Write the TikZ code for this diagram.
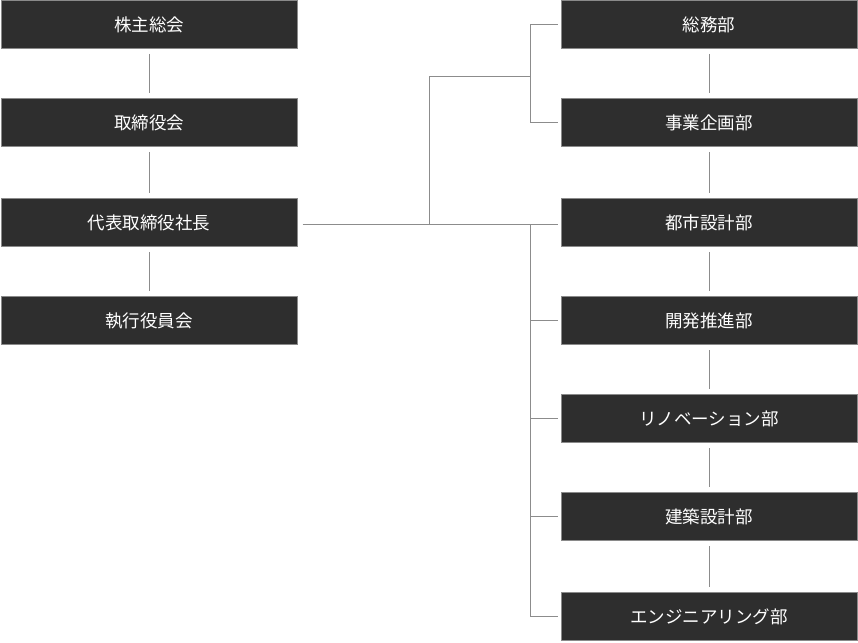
\documentclass[tikz,border=0pt]{standalone}
\usepackage{fontspec}
\newfontfamily\cjk{Noto Sans CJK JP}
\definecolor{boxfill}{HTML}{2E2E2E}
\definecolor{boxline}{HTML}{8A8A8A}
\definecolor{conn}{HTML}{8C8C8C}
\tikzset{
  orgbox/.style={draw=boxline, line width=1pt, fill=boxfill, text=white,
    minimum width=296pt, minimum height=48pt, inner sep=0pt,
    font=\cjk\fontsize{17.5pt}{20pt}\selectfont},
  link/.style={draw=conn, line width=1pt},
  gaplink/.style={link, shorten <=5pt, shorten >=5pt}
}
\begin{document}
\begin{tikzpicture}[x=1pt,y=-1pt]
\useasboundingbox (0,0) rectangle (858,642);
% left column
\node[orgbox] (a1) at (149,24.5) {株主総会};
\node[orgbox] (a2) at (149,122.5) {取締役会};
\node[orgbox] (a3) at (149,222.5) {代表取締役社長};
\node[orgbox] (a4) at (149,320.5) {執行役員会};
% right column
\node[orgbox] (b1) at (709,24.5) {総務部};
\node[orgbox] (b2) at (709,122.5) {事業企画部};
\node[orgbox] (b3) at (709,222.5) {都市設計部};
\node[orgbox] (b4) at (709,320.5) {開発推進部};
\node[orgbox] (b5) at (709,418.5) {リノベーション部};
\node[orgbox] (b6) at (709,516.5) {建築設計部};
\node[orgbox] (b7) at (709,616.5) {エンジニアリング部};
% vertical links
\draw[gaplink] (a1.south) -- (a2.north);
\draw[gaplink] (a2.south) -- (a3.north);
\draw[gaplink] (a3.south) -- (a4.north);
\draw[gaplink] (b1.south) -- (b2.north);
\draw[gaplink] (b2.south) -- (b3.north);
\draw[gaplink] (b3.south) -- (b4.north);
\draw[gaplink] (b4.south) -- (b5.north);
\draw[gaplink] (b5.south) -- (b6.north);
\draw[gaplink] (b6.south) -- (b7.north);
% coordinates for bracket
\coordinate (s) at ([xshift=5pt,yshift=-1.5pt]a3.east);
\coordinate (j1) at (429.5,224);
\coordinate (j2) at (429.5,76);
\coordinate (t) at (530.5,76);
% main horizontal line
\draw[link] (s) -- ([xshift=-3pt]b3.west |- s);
% upper bracket
\draw[link] (j1) -- (j2) -- (t);
\draw[link] ([xshift=-3pt]b1.west) -- (t |- b1.west) -- (t |- b2.west) -- ([xshift=-3pt]b2.west);
% lower bracket
\draw[link] (t |- s) -- (t |- b7.west) -- ([xshift=-3pt]b7.west);
\foreach \n in {b4,b5,b6}{
  \draw[link] (t |- \n.west) -- ([xshift=-3pt]\n.west);
}
\end{tikzpicture}
\end{document}
